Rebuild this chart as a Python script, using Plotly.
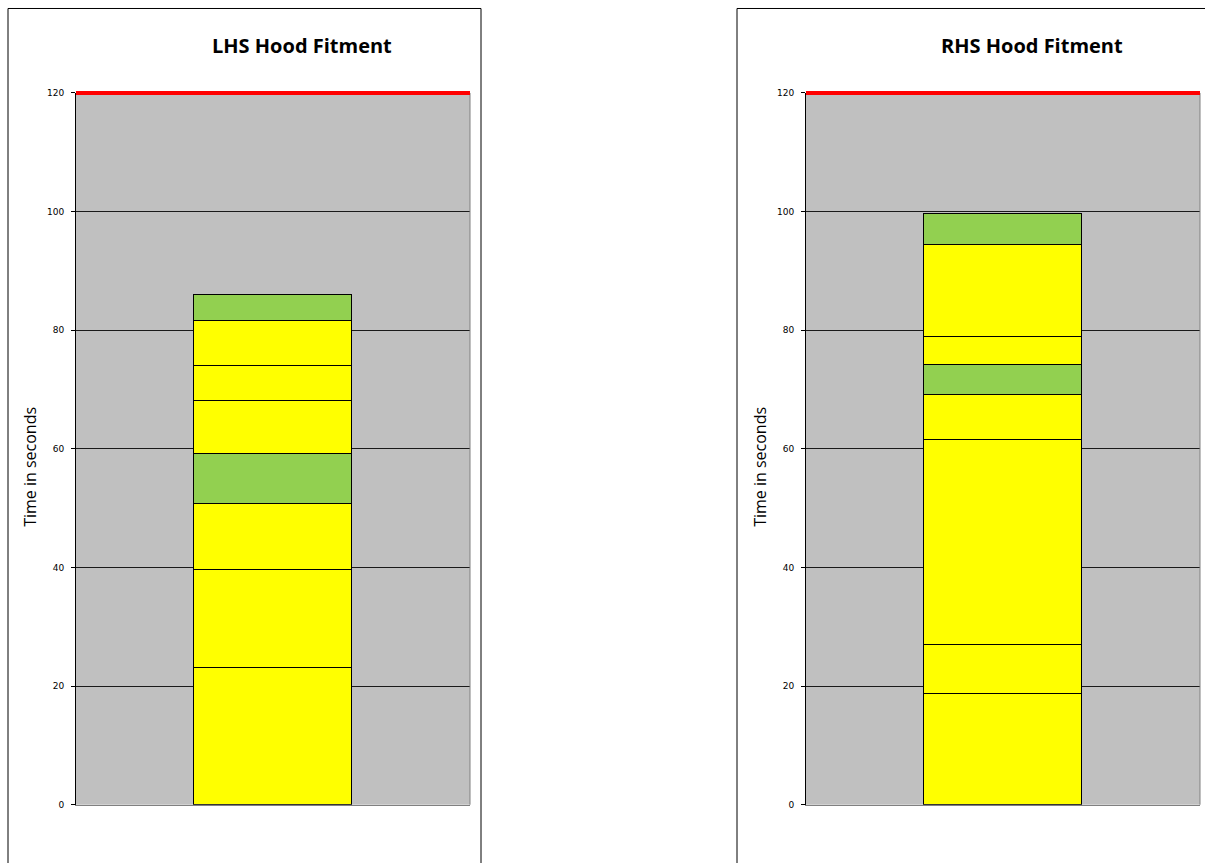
import plotly.graph_objects as go

# Stacked element times (seconds), bottom to top
lhs_times = [23.1, 16.4, 11.2, 8.4, 9.0, 5.8, 7.7, 4.3]
lhs_groups = ["yellow", "yellow", "yellow", "green", "yellow", "yellow", "yellow", "green"]
rhs_times = [18.6, 8.3, 34.6, 7.5, 5.2, 4.7, 15.4, 5.3]
rhs_groups = ["yellow", "yellow", "yellow", "yellow", "green", "yellow", "yellow", "green"]

titles = ["LHS Hood Fitment", "RHS Hood Fitment"]
takt_time = 120
y_ticks = [0, 20, 40, 60, 80, 100, 120]
y_axis_title = "Time in seconds"

W, H = 1205, 863
fill = {"yellow": "#FFFF00", "green": "#92D050"}


def py(pixel):
    """Page pixel row (from top) -> paper y fraction."""
    return 1 - (pixel - 4) / 853.3


fig = go.Figure()

panels = [
    dict(times=lhs_times, groups=lhs_groups, xa="x", ya="y", px=(76, 470), box=(8, 481)),
    dict(times=rhs_times, groups=rhs_groups, xa="x2", ya="y2", px=(806, 1200), box=(737, 1260)),
]

for i, p in enumerate(panels):
    for t, g in zip(p["times"], p["groups"]):
        fig.add_trace(go.Bar(
            x=[""], y=[t], xaxis=p["xa"], yaxis=p["ya"], width=0.4,
            marker=dict(color=fill[g], line=dict(color="#000000", width=1)),
            showlegend=False, hoverinfo="y",
        ))

y_top, y_bot = 92, 804
ydom = [py(y_bot), py(y_top)]

common_x = dict(showgrid=False, showticklabels=False, ticks="", showline=True,
                linecolor="#808080", linewidth=1, range=[-0.5, 0.5], zeroline=False,
                fixedrange=True)
common_y = dict(range=[0, takt_time], tickvals=y_ticks, showgrid=True,
                gridcolor="#1a1a1a", gridwidth=1, showline=True, linecolor="#000000",
                linewidth=1, ticks="outside", ticklen=4, tickcolor="#000000",
                tickfont=dict(family="DejaVu Sans", size=9, color="#000000"),
                zeroline=False, fixedrange=True, ticklabelstandoff=5)

fig.update_layout(
    width=W, height=H, margin=dict(l=0, r=0, t=0, b=0),
    paper_bgcolor="white", plot_bgcolor="#C0C0C0", barmode="stack", bargap=0,
    xaxis=dict(domain=[76 / W, 470 / W], anchor="y", **common_x),
    yaxis=dict(domain=ydom, anchor="x", **common_y),
    xaxis2=dict(domain=[806 / W, 1200 / W], anchor="y2", **common_x),
    yaxis2=dict(domain=ydom, anchor="x2", **common_y),
)

shapes = []
annotations = []
for i, p in enumerate(panels):
    x0p, x1p = p["px"]
    bx0, bx1 = p["box"]
    # chart border box
    shapes.append(dict(type="rect", xref="paper", yref="paper",
                       x0=bx0 / W, x1=bx1 / W, y0=-0.1, y1=py(7.5),
                       line=dict(color="#000000", width=1), fillcolor="rgba(0,0,0,0)",
                       layer="below"))
    # right edge of plot area
    shapes.append(dict(type="line", xref="paper", yref="paper",
                       x0=x1p / W, x1=x1p / W, y0=ydom[0], y1=ydom[1],
                       line=dict(color="#808080", width=1)))
    # takt time line at the top of the axis
    xr = "x domain" if i == 0 else "x2 domain"
    shapes.append(dict(type="line", xref=xr, yref="paper", x0=0, x1=1,
                       y0=ydom[1], y1=ydom[1],
                       line=dict(color="#FF0000", width=4)))
    annotations.append(dict(text="<b>" + titles[i] + "</b>", xref="paper", yref="paper",
                            x=(x0p + 226) / W, y=py(45), showarrow=False,
                            xanchor="center", yanchor="middle",
                            font=dict(family="Open Sans", size=20, color="#000000")))
    annotations.append(dict(text=y_axis_title, xref="paper", yref="paper",
                            x=(x0p - 46) / W, y=py(466), showarrow=False,
                            textangle=-90, xanchor="center", yanchor="middle",
                            font=dict(family="Open Sans", size=16, color="#000000")))

fig.update_layout(shapes=shapes, annotations=annotations)

fig.write_html("out.html")
